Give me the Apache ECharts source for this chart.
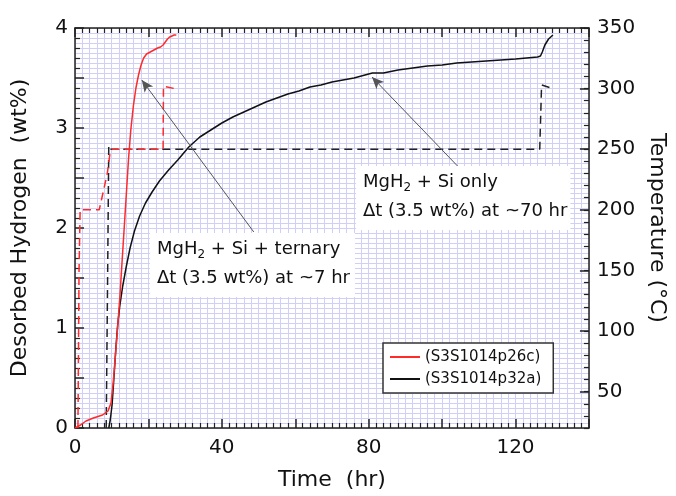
<!DOCTYPE html>
<html>
<head>
<meta charset="utf-8">
<title>Desorbed hydrogen vs time</title>
<script src="https://cdn.jsdelivr.net/npm/echarts@6/dist/echarts.min.js"></script>
<style>
  html, body { margin: 0; padding: 0; background: #fff; }
  #chart { width: 676px; height: 496px; }
</style>
</head>
<body>
<div id="chart"></div>
<script>
// MgH2 + Si + ternary (red)
const timeP26c = [0, 0.5, 1.5, 3, 5, 7.5, 9, 9.8, 10.4, 11.0, 11.6, 12.2, 12.8, 13.4, 14.0, 14.6, 15.2, 15.9, 16.6, 17.3, 18.0, 18.7, 19.5, 20.5, 21.5, 22.5, 23.3, 24.0, 24.6, 25.2, 25.8, 26.4, 27.0, 27.6]
const wtP26c = [0, 0.01, 0.03, 0.07, 0.1, 0.13, 0.17, 0.25, 0.45, 0.72, 1.0, 1.3, 1.65, 2.0, 2.35, 2.7, 2.98, 3.22, 3.4, 3.53, 3.63, 3.7, 3.74, 3.76, 3.78, 3.8, 3.81, 3.83, 3.86, 3.89, 3.91, 3.92, 3.93, 3.93]
const tempTimeP26c = [0.8, 1.1, 1.4, 6.6, 7.7, 8.8, 9.6, 10.2, 24.0, 24.1, 27.2]
const tempP26c = [20, 150, 200, 200, 215, 230, 248, 250, 250, 302, 300]

// MgH2 + Si only (black)
const timeP32a = [9.2, 9.6, 10.1, 10.6, 11.1, 11.6, 12.2, 13.0, 14.0, 15.0, 16.2, 17.6, 19.2, 21.0, 23.0, 25.5, 28.0, 31.0, 34.0, 37.0, 40.0, 43.0, 46.0, 49.0, 52.0, 55.0, 58.0, 61.0, 64.0, 67.0, 70.0, 73.0, 76.0, 79.0, 81.0, 84.0, 88.0, 92.0, 96.0, 100.0, 104.0, 108.0, 112.0, 116.0, 120.0, 123.0, 126.0, 126.8, 127.3, 128.0, 129.0, 130.2]
const wtP32a = [0, 0.08, 0.23, 0.5, 0.78, 1.02, 1.22, 1.42, 1.62, 1.8, 1.97, 2.12, 2.25, 2.36, 2.47, 2.58, 2.68, 2.81, 2.91, 2.98, 3.05, 3.11, 3.16, 3.21, 3.26, 3.3, 3.34, 3.37, 3.41, 3.43, 3.46, 3.48, 3.5, 3.53, 3.55, 3.55, 3.58, 3.6, 3.62, 3.63, 3.65, 3.66, 3.67, 3.68, 3.69, 3.7, 3.71, 3.72, 3.76, 3.83, 3.89, 3.93]
const tempTimeP32a = [8.5, 8.9, 9.2, 9.8, 126.6, 127.1, 130.2]
const tempP32a = [20, 150, 253, 250, 250, 303, 300]

const xLabels = [0, 40, 80, 120]
const wtLabels = [0, 1, 2, 3, 4]
const tempLabels = [50, 100, 150, 200, 250, 300, 350]

const legendNames = ['(S3S1014p26c)', '(S3S1014p32a)']

const font = 'DejaVu Sans'
const frame = '#222'
const gridColor = '#cfcff7'

function pairs(xs, ys) {
  return xs.map((x, i) => [x, ys[i]])
}

const chart = echarts.init(document.getElementById('chart'))

const noteRich = {
  a: { fontFamily: font, fontSize: 18, lineHeight: 29, fill: '#111' },
  s: { fontFamily: font, fontSize: 12, lineHeight: 29, padding: [10, 0, 0, 0], fill: '#111' }
}

const option = {
  animation: false,
  backgroundColor: '#fff',
  grid: { left: 75, right: 81, top: 28, bottom: 66 },
  legend: {
    data: legendNames,
    icon: 'rect',
    orient: 'vertical',
    left: 383,
    top: 343,
    padding: [6, 12, 6, 7],
    itemWidth: 30,
    itemHeight: 2,
    itemGap: 6,
    borderColor: '#333',
    borderWidth: 1.5,
    backgroundColor: '#fff',
    textStyle: { fontFamily: font, fontSize: 15, lineHeight: 16, color: '#111' }
  },
  xAxis: [
    {
      type: 'value', position: 'bottom', min: 0, max: 140, interval: 20,
      name: 'Time  (hr)', nameLocation: 'middle', nameGap: 41,
      nameTextStyle: { fontFamily: font, fontSize: 22, color: '#111' },
      axisLine: { onZero: false, lineStyle: { color: frame, width: 1.5 } },
      axisTick: { inside: true, length: 9, lineStyle: { color: frame, width: 1.5 } },
      minorTick: { show: true, splitNumber: 10, length: 5, lineStyle: { color: frame, width: 1.2 } },
      axisLabel: {
        margin: 10, fontFamily: font, fontSize: 20, color: '#111',
        formatter: v => (xLabels.indexOf(v) >= 0 ? String(v) : '')
      },
      splitLine: { show: false }
    },
    {
      type: 'value', position: 'top', min: 0, max: 140, interval: 20,
      axisLine: { onZero: false, lineStyle: { color: frame, width: 1.5 } },
      axisTick: { inside: true, length: 9, lineStyle: { color: frame, width: 1.5 } },
      minorTick: { show: true, splitNumber: 10, length: 5, lineStyle: { color: frame, width: 1.2 } },
      axisLabel: { show: false },
      splitLine: { show: false }
    },
    {
      // grid helper
      type: 'value', position: 'bottom', min: 0, max: 140, interval: 2,
      axisLine: { show: false, onZero: false }, axisTick: { show: false }, axisLabel: { show: false },
      splitLine: { show: true, lineStyle: { color: gridColor, width: 1 } }
    }
  ],
  yAxis: [
    {
      type: 'value', position: 'left', min: 0, max: 4, interval: 0.5,
      name: 'Desorbed Hydrogen  (wt%)', nameLocation: 'middle', nameGap: 44,
      nameTextStyle: { fontFamily: font, fontSize: 22, color: '#111' },
      axisLine: { onZero: false, lineStyle: { color: frame, width: 1.5 } },
      axisTick: { inside: true, length: 9, lineStyle: { color: frame, width: 1.5 } },
      minorTick: { show: true, splitNumber: 5, length: 5, lineStyle: { color: frame, width: 1.2 } },
      axisLabel: {
        margin: 7, fontFamily: font, fontSize: 20, color: '#111',
        formatter: v => (wtLabels.some(w => Math.abs(w - v) < 1e-6) ? String(Math.round(v)) : '')
      },
      splitLine: { show: false }
    },
    {
      type: 'value', position: 'right', min: 20, max: 350, interval: 10,
      name: 'Temperature (°C)', nameLocation: 'middle', nameGap: 36, nameRotate: -90,
      nameTextStyle: { fontFamily: font, fontSize: 22, color: '#111' },
      axisLine: { onZero: false, lineStyle: { color: frame, width: 1.5 } },
      axisTick: { inside: true, length: 5, lineStyle: { color: frame, width: 1.2 } },
      axisLabel: {
        margin: 8, fontFamily: font, fontSize: 20, color: '#111',
        formatter: v => (tempLabels.indexOf(v) >= 0 ? String(v) : '')
      },
      splitLine: { show: false }
    },
    {
      // longer ticks at every 50 degrees
      type: 'value', position: 'right', min: 20, max: 350,
      axisLine: { show: false, onZero: false },
      axisTick: { inside: true, length: 9, customValues: tempLabels, lineStyle: { color: frame, width: 1.5 } },
      axisLabel: { show: false },
      splitLine: { show: false }
    },
    {
      // grid helper
      type: 'value', position: 'left', min: 0, max: 4, interval: 0.05,
      axisLine: { show: false, onZero: false }, axisTick: { show: false }, axisLabel: { show: false },
      splitLine: { show: true, lineStyle: { color: gridColor, width: 1 } }
    }
  ],
  series: [
    {
      name: 'T p32a', type: 'line', yAxisIndex: 1, symbol: 'none',
      data: pairs(tempTimeP32a, tempP32a),
      lineStyle: { color: '#222', width: 1.5, type: [8, 5] }
    },
    {
      name: legendNames[1], type: 'line', yAxisIndex: 0, symbol: 'none',
      data: pairs(timeP32a, wtP32a),
      itemStyle: { color: '#111' },
      lineStyle: { color: '#111', width: 1.5 },
      markLine: {
        silent: true,
        symbol: ['none', 'arrow'],
        symbolSize: [8, 12],
        label: { show: false },
        lineStyle: { color: '#555', width: 1, type: 'solid' },
        data: [
          [{ coord: [48.7, 1.96] }, { coord: [18.2, 3.48] }],
          [{ coord: [104.2, 2.62] }, { coord: [80.9, 3.51] }]
        ]
      }
    },
    {
      name: 'T p26c', type: 'line', yAxisIndex: 1, symbol: 'none',
      data: pairs(tempTimeP26c, tempP26c),
      lineStyle: { color: '#ff2a2a', width: 1.5, type: [8, 5] }
    },
    {
      name: legendNames[0], type: 'line', yAxisIndex: 0, symbol: 'none',
      data: pairs(timeP26c, wtP26c),
      itemStyle: { color: '#ff2a2a' },
      lineStyle: { color: '#ff2a2a', width: 1.5 }
    }
  ],
  graphic: [
    {
      type: 'text', left: 150, top: 233, z: 100,
      style: {
        text: '{a|MgH}{s|2}{a| + Si + ternary}\n{a|\u0394t (3.5 wt%) at ~7 hr}',
        backgroundColor: '#fff',
        padding: [2, 5, 4, 7],
        rich: noteRich
      }
    },
    {
      type: 'text', left: 356, top: 166, z: 100,
      style: {
        text: '{a|MgH}{s|2}{a| + Si only}\n{a|\u0394t (3.5 wt%) at ~70 hr}',
        backgroundColor: '#fff',
        padding: [2, 3, 4, 7],
        rich: noteRich
      }
    }
  ]
}

chart.setOption(option)
</script>
</body>
</html>
